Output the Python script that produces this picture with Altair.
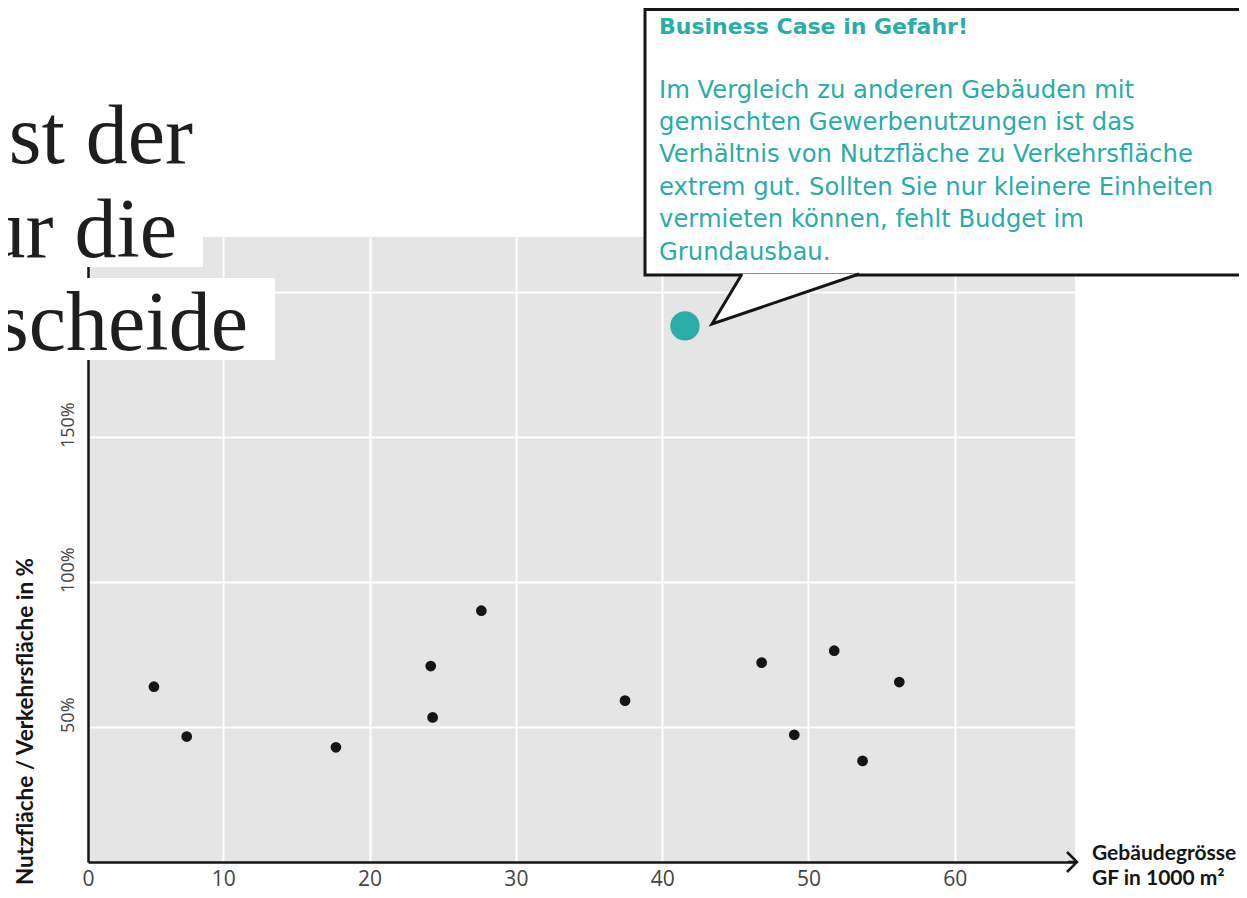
import altair as alt
import pandas as pd

# ---- data ----
gf_x = [5.26, 7.50, 17.70, 24.18, 24.31, 27.64, 37.46, 46.80, 49.03, 51.76, 53.70, 56.21]
ratio_y = [63.8, 46.6, 42.9, 70.9, 53.2, 90.0, 59.0, 72.1, 47.2, 76.2, 38.2, 65.4]
highlight_x = [41.56]
highlight_y = [188.2]
x_ticks = [10, 20, 30, 40, 50, 60]
y_ticks = [50, 100, 150, 200]
headline = ["st der", "ur die", "scheide"]
callout_title = "Business Case in Gefahr!"
callout_body = [
    "Im Vergleich zu anderen Gebäuden mit",
    "gemischten Gewerbenutzungen ist das",
    "Verhältnis von Nutzfläche zu Verkehrsfläche",
    "extrem gut. Sollten Sie nur kleinere Einheiten",
    "vermieten können, fehlt Budget im",
    "Grundausbau.",
]
x_title = ["Gebäudegrösse", "GF in 1000 m²"]
y_title = "Nutzfläche / Verkehrsfläche in %"

X0, X1 = 0.752, 68.22
Y0, Y1 = 3.34, 218.86
W, H = 987, 625
TEAL = "#2aaca7"
INK = "#151515"

df = pd.DataFrame({
    "gf": gf_x + highlight_x,
    "ratio": ratio_y + highlight_y,
    "grp": ["n"] * len(gf_x) + ["h"] * len(highlight_x),
})
one = pd.DataFrame({"k": [0]})

xscale = alt.Scale(domain=[X0, X1], nice=False, zero=False)
yscale = alt.Scale(domain=[Y0, Y1], nice=False, zero=False)

xaxis = alt.Axis(
    values=[X0] + x_ticks, format=".0f",
    labelExpr="datum.value < 1 ? '0' : datum.label",
    title=None, grid=True, labelFlush=False,
    gridColor=alt.condition("datum.value < 1", alt.value("transparent"), alt.value("white")),
    labelBaseline="top", labelPadding=6, labelFontSize=21,
)
yaxis = alt.Axis(
    values=y_ticks,
    labelExpr="datum.value > 175 ? '' : datum.value + '%'",
    title=None, grid=True, labelFlush=False,
    labelAngle=270, labelAlign="center", labelBaseline="alphabetic",
    labelPadding=15, labelOffset=-12, labelFontSize=18,
)

base = alt.Chart(df).encode(
    x=alt.X("gf:Q", scale=xscale, axis=xaxis),
    y=alt.Y("ratio:Q", scale=yscale, axis=yaxis),
)
pts = base.transform_filter("datum.grp == 'n'").mark_point(
    filled=True, color=INK, size=115, opacity=1
)
hl = base.transform_filter("datum.grp == 'h'").mark_point(
    filled=True, color=TEAL, size=860, opacity=1
)

# callout box
box = alt.Chart(one).mark_rect(fill="white", stroke=INK, strokeWidth=3).encode(
    x=alt.value(557), x2=alt.value(1220), y=alt.value(-227.5), y2=alt.value(38)
)
tail = alt.Chart(one).mark_point(
    shape="M30,-50L0,0L147,-50", size=4, filled=True, fill="white",
    stroke=INK, strokeWidth=3, opacity=1, strokeJoin="miter",
).encode(x=alt.value(624), y=alt.value(87))

ctitle = alt.Chart(one).mark_text(
    text=callout_title, align="left", baseline="alphabetic", font="DejaVu Sans",
    fontSize=22, fontWeight="bold", color=TEAL,
).encode(x=alt.value(571), y=alt.value(-203.5))
cbody = alt.Chart(one).mark_text(
    text=callout_body, align="left", baseline="alphabetic", font="DejaVu Sans",
    fontSize=24.3, lineHeight=32.4, color=TEAL,
).encode(x=alt.value(571), y=alt.value(-139.5))

# headline fragments with white boxes
hbox2 = alt.Chart(one).mark_rect(fill="white").encode(
    x=alt.value(-100), x2=alt.value(115), y=alt.value(-70), y2=alt.value(30)
)
hbox3 = alt.Chart(one).mark_rect(fill="white").encode(
    x=alt.value(-100), x2=alt.value(187), y=alt.value(41), y2=alt.value(123)
)
hl_texts = []
for txt, xe, yb in zip(headline, [105, 89, 160], [-74, 20, 113]):
    hl_texts.append(
        alt.Chart(one).mark_text(
            text=txt, align="right", baseline="alphabetic",
            font="Liberation Serif", fontSize=84, color="#1e1e1e",
        ).encode(x=alt.value(xe), y=alt.value(yb))
    )

# axis titles
ytitle = alt.Chart(one).mark_text(
    text=y_title, angle=270, align="left", baseline="alphabetic",
    font="Lato", fontWeight="bold", fontSize=22.5, color=INK,
).encode(x=alt.value(-55), y=alt.value(648))
xtitle = alt.Chart(one).mark_text(
    text=x_title, align="left", baseline="alphabetic", lineHeight=25,
    font="Lato", fontWeight="bold", fontSize=21, color=INK,
).encode(x=alt.value(1004), y=alt.value(623))

# arrow at end of x axis
arrow_line = alt.Chart(one).mark_rule(color=INK, strokeWidth=2.5).encode(
    x=alt.value(980), x2=alt.value(989), y=alt.value(625)
)
arrow = alt.Chart(one).mark_point(
    shape="M-10,-10L0,0L-10,10", size=4, filled=False, stroke=INK,
    strokeWidth=2.5, opacity=1,
).encode(x=alt.value(989), y=alt.value(625))

chart = alt.layer(
    pts, hl, box, tail, ctitle, cbody, hbox2, hbox3, *hl_texts,
    ytitle, xtitle, arrow_line, arrow,
).properties(
    width=W, height=H,
    autosize=alt.AutoSizeParams(type="none"),
    padding={"left": 80, "top": 229, "right": 164, "bottom": 28},
    background="white",
).configure_view(
    fill="#e5e5e5", strokeWidth=0
).configure_axis(
    domainColor=INK, domainWidth=2.5, ticks=False, tickSize=0,
    labelFont="Open Sans", labelFontSize=22, labelColor="#444444",
    gridColor="white", gridWidth=2,
)

chart.save("out.html", embed_options={"renderer": "svg", "actions": False})
